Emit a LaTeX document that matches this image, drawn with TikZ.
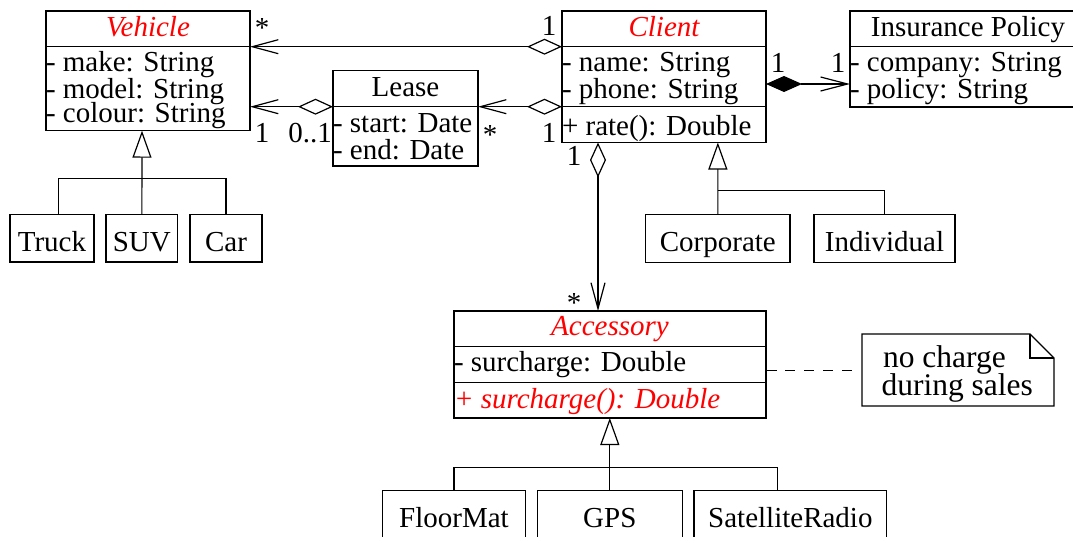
\documentclass[tikz,border=0pt]{standalone}
\usepackage{fontspec}
\setmainfont{Liberation Serif}
\usetikzlibrary{arrows.meta}
\newcommand\umlfs{\fontsize{29}{30}\selectfont}
\newcommand\notefs{\fontsize{31.5}{32}\selectfont}
\begin{document}
\begin{tikzpicture}[x=1pt,y=-1pt,
  every node/.style={inner sep=0pt, outer sep=0pt},
  lw/.style={line width=1.2pt},
  cbox/.style={draw, line width=1.2pt, anchor=north west},
  tl/.style={anchor=base west, font=\umlfs},
  tc/.style={anchor=base, font=\umlfs},
  ttl/.style={anchor=base, font=\umlfs\itshape, text=red},
  notetxt/.style={anchor=base west, font=\notefs},
  opendia/.style={{Diamond[open,length=35pt,width=16pt]}-{Straight Barb[length=26pt,width=14pt]}},
  filldia/.style={{Diamond[fill=black,length=36pt,width=16pt]}-{Straight Barb[length=27pt,width=14pt]}},
  gen/.style={-{Triangle[open,length=27pt,width=19pt]}}
]
\useasboundingbox (0,0) rectangle (1073,536);
\fill[white] (0,0) rectangle (1073,536);
\clip (0,0) rectangle (1073,536);

% ---------- Vehicle ----------
\node[cbox, minimum width=204pt, minimum height=119.7pt] (veh) at (46,11) {};
\draw[lw] (46,46.7) -- (250,46.7);
\node[ttl] (vehT) at (148,36) {Vehicle};
\node[tl] (veh1) at (46,71) {- make: String};
\node[tl] (veh2) at (46,98) {- model: String};
\node[tl] (veh3) at (46,122) {- colour: String};

% ---------- Lease ----------
\node[cbox, minimum width=145pt, minimum height=95.3pt] (lea) at (333,70.7) {};
\draw[lw] (333,106.7) -- (478,106.7);
\node[tc] (leaT) at (405.5,96) {Lease};
\node[tl] (lea1) at (333,132) {- start: Date};
\node[tl] (lea2) at (333,159) {- end: Date};

% ---------- Client ----------
\node[cbox, minimum width=204pt, minimum height=131.5pt] (cli) at (562,11) {};
\draw[lw] (562,46.7) -- (766,46.7);
\draw[lw] (562,106.7) -- (766,106.7);
\node[ttl] (cliT) at (664,36) {Client};
\node[tl] (cli1) at (562,71) {- name: String};
\node[tl] (cli2) at (562,98) {- phone: String};
\node[tl] (cli3) at (562,135) {+ rate(): Double};

% ---------- Insurance Policy ----------
\node[cbox, minimum width=240pt, minimum height=96pt] (ins) at (850,11) {};
\draw[lw] (850,46.7) -- (1090,46.7);
\node[tc] (insT) at (968,36) {Insurance Policy};
\node[tl] (ins1) at (850,71) {- company: String};
\node[tl] (ins2) at (850,98) {- policy: String};

% ---------- Vehicle subclasses ----------
\node[cbox, minimum width=84pt, minimum height=47.7pt] (truck) at (10,214.3) {};
\node[tc] (truckT) at (52,251) {Truck};
\node[cbox, minimum width=71.7pt, minimum height=47.7pt] (suv) at (106,214.3) {};
\node[tc] (suvT) at (141.85,251) {SUV};
\node[cbox, minimum width=72pt, minimum height=47.7pt] (car) at (190,214.3) {};
\node[tc] (carT) at (226,251) {Car};

% ---------- Client subclasses ----------
\node[cbox, minimum width=144.3pt, minimum height=48pt] (corp) at (645.7,214.7) {};
\node[tc] (corpT) at (717.85,251) {Corporate};
\node[cbox, minimum width=141pt, minimum height=48pt] (ind) at (814,214.7) {};
\node[tc] (indT) at (884.5,251) {Individual};

% ---------- Accessory ----------
\node[cbox, minimum width=312pt, minimum height=107pt] (acc) at (454,311) {};
\draw[lw] (454,346.7) -- (766,346.7);
\draw[lw] (454,382.7) -- (766,382.7);
\node[ttl] (accT) at (610,335) {Accessory};
\node[tl] (acc1) at (454,371) {- surcharge: Double};
\node[tl, font=\umlfs\itshape, text=red] (acc2) at (454,408) {+ surcharge(): Double};

% ---------- Note ----------
\coordinate (nTL) at (862,334);
\coordinate (nF1) at (1030,334);
\coordinate (nF2) at (1054,358);
\coordinate (nBR) at (1054,406);
\coordinate (nBL) at (862,406);
\draw[lw, line join=miter] (nTL) -- (nF1) -- (nF2) -- (nBR) -- (nBL) -- cycle;
\draw[lw] (nF1) -- (1030,358) -- (nF2);
\node[notetxt] (note1) at (883,367) {no charge};
\node[notetxt] (note2) at (881.5,395) {during sales};
\coordinate (accN) at (766.5,370);
\coordinate (noteW) at (852,370);
\draw[line width=1pt, dash pattern=on 10pt off 8.9pt] (accN) -- (noteW);

% ---------- Accessory subclasses ----------
\node[cbox, minimum width=143.4pt, minimum height=70pt] (fm) at (382.3,490.7) {};
\node[tc] (fmT) at (454,527) {FloorMat};
\node[cbox, minimum width=145pt, minimum height=70pt] (gps) at (537.3,490.7) {};
\node[tc] (gpsT) at (609.8,527) {GPS};
\node[cbox, minimum width=192.7pt, minimum height=70pt] (sr) at (694,490.7) {};
\node[tc] (srT) at (790.35,527) {SatelliteRadio};

% ---------- Associations ----------
\coordinate (vehA) at (250,46.7);
\coordinate (cliA) at (562,46.7);
\draw[lw, opendia] (cliA) -- (vehA);

\coordinate (vehB) at (250,106.7);
\coordinate (leaW) at (333,106.7);
\draw[lw, opendia] (leaW) -- (vehB);

\coordinate (leaE) at (478,106.7);
\coordinate (cliB) at (562,106.7);
\draw[lw, opendia] (cliB) -- (leaE);

\coordinate (cliC) at (766,84);
\coordinate (insW) at (850,84);
\draw[lw, filldia] (cliC) -- (insW);

\coordinate (cliD) at (598,142.5);
\coordinate (accTop) at (598,311);
\draw[lw, opendia] (cliD) -- (accTop);

% ---------- Generalisations ----------
\coordinate (vgen) at (142,130.7);
\coordinate (vj) at (142,178.3);
\coordinate (tDrop) at (58.3,214.3);
\coordinate (cDrop) at (226,214.3);
\draw[lw, gen] (suv.north) -- (vgen);
\draw[lw] (tDrop) |- (vj) -| (cDrop);

\coordinate (cgen) at (717.85,142.5);
\coordinate (cj) at (717.85,190.7);
\draw[lw, gen] (corp.north) -- (cgen);
\draw[lw] (cj) -| (ind.north);

\coordinate (agen) at (609.8,418);
\coordinate (aj) at (609.8,467.3);
\coordinate (srDrop) at (777.3,490.7);
\draw[lw, gen] (gps.north) -- (agen);
\draw[lw] (fm.north) |- (aj) -| (srDrop);

% ---------- Multiplicities ----------
\node[tc] (m1) at (262,37) {*};
\node[tc] (m2) at (549,35) {1};
\node[tc] (m3) at (262,142) {1};
\node[tc] (m4) at (310,142) {0..1};
\node[tc] (m5) at (490,144) {*};
\node[tc] (m6) at (549,142) {1};
\node[tc] (m7) at (778,72) {1};
\node[tc] (m8) at (838,72) {1};
\node[tc] (m9) at (574,165) {1};
\node[tc] (m10) at (574,312) {*};
\end{tikzpicture}
\end{document}
